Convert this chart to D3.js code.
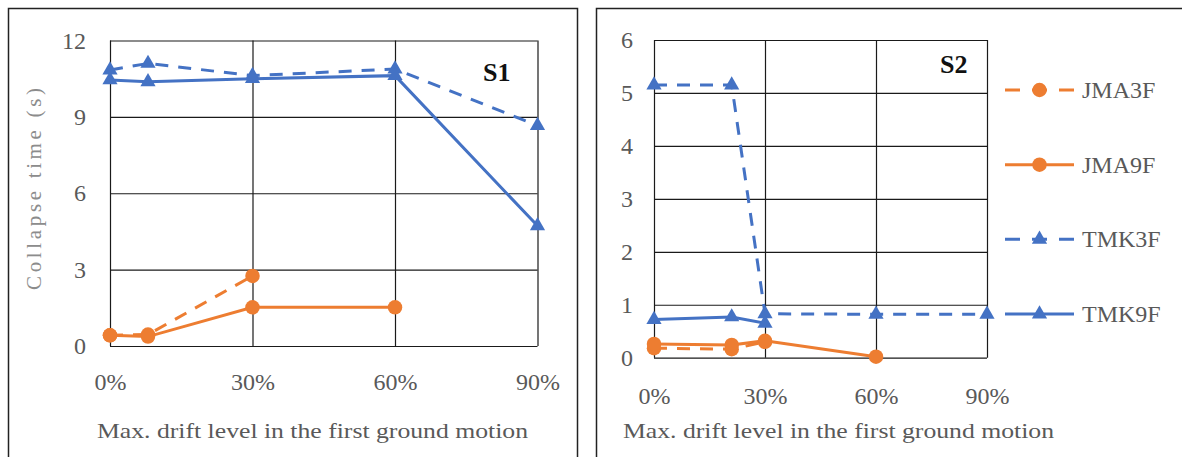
<!DOCTYPE html>
<html>
<head>
<meta charset="utf-8">
<script src="https://cdn.jsdelivr.net/npm/d3@7"></script>
<style>
    body { margin: 0; background: #fff; }
    text { font-family: "Liberation Serif", "DejaVu Serif", serif; }
</style>
</head>
<body>
<div id="chart-area"></div>
<script>
// x values (max. drift level, %) and series values (collapse time, s)
const driftTicks = [0, 30, 60, 90];

const s1Drift = [0, 8, 30, 60, 90];
const s1JMA3F = [0.42, 0.45, 2.75];
const s1JMA9F = [0.42, 0.37, 1.52, 1.52];
const s1TMK3F = [10.84, 11.1, 10.62, 10.88, 8.66];
const s1TMK9F = [10.45, 10.38, 10.5, 10.62, 4.72];
const s1Ticks = [0, 3, 6, 9, 12];

const s2Drift = [0, 21, 30, 60, 90];
const s2JMA3F = [0.18, 0.16, 0.3];
const s2JMA9F = [0.26, 0.24, 0.32, 0.02];
const s2TMK3F = [5.15, 5.15, 0.83, 0.82, 0.82];
const s2TMK9F = [0.72, 0.77, 0.65];
const s2Ticks = [0, 1, 2, 3, 4, 5, 6];

const seriesNames = ["JMA3F", "JMA9F", "TMK3F", "TMK9F"];

const orange = "#ED7D31", blue = "#4472C4";
const styles = {
    JMA3F: {color: orange, dash: "13,10", shape: d3.symbolCircle, size: 165},
    JMA9F: {color: orange, dash: null, shape: d3.symbolCircle, size: 165},
    TMK3F: {color: blue, dash: "13,10", shape: d3.symbolTriangle, size: 100},
    TMK9F: {color: blue, dash: null, shape: d3.symbolTriangle, size: 100}
};

const svg = d3.select("#chart-area").append("svg")
    .attr("width", 1182)
    .attr("height", 457);

// panel frames
svg.append("rect").attr("x", 8.5).attr("y", 8.5).attr("width", 569).attr("height", 470)
    .attr("fill", "none").attr("stroke", "#222").attr("stroke-width", 1.5);
svg.append("rect").attr("x", 596.5).attr("y", 8.5).attr("width", 700).attr("height", 470)
    .attr("fill", "none").attr("stroke", "#222").attr("stroke-width", 1.5);

function drawPanel(p) {
    let g = svg.append("g").attr("transform", `translate(${p.left}, ${p.top})`);

    let x = d3.scaleLinear().domain([0, 90]).range([0, p.width]);
    let y = d3.scaleLinear().domain([0, d3.max(p.yTicks)]).range([p.height, 0]);

    // y gridlines + labels
    g.append("g")
        .call(d3.axisLeft(y).tickValues(p.yTicks).tickSize(-p.width).tickPadding(p.yPad).tickFormat(d3.format("d")))
        .call(a => a.select(".domain").remove())
        .call(a => a.selectAll("line").attr("stroke", "#1a1a1a").attr("stroke-width", 1.2))
        .call(a => a.selectAll("text").attr("fill", "#595959").style("font-size", "24px")
            .style("font-family", "'Liberation Serif', serif"));

    // x gridlines + labels
    g.append("g")
        .attr("transform", `translate(0, ${p.height})`)
        .call(d3.axisBottom(x).tickValues(driftTicks).tickSize(-p.height).tickPadding(p.xPad).tickFormat(d => d + "%"))
        .call(a => a.select(".domain").remove())
        .call(a => a.selectAll("line").attr("stroke", "#1a1a1a").attr("stroke-width", 1.2))
        .call(a => a.selectAll("text").attr("fill", "#595959").style("font-size", "24px")
            .style("font-family", "'Liberation Serif', serif"));

    // series
    seriesNames.forEach(name => {
        let vals = p.series[name];
        let pts = vals.map((v, i) => [p.drift[i], v]);
        let st = styles[name];

        g.append("path")
            .datum(pts)
            .attr("fill", "none")
            .attr("stroke", st.color)
            .attr("stroke-width", 3)
            .attr("stroke-dasharray", st.dash)
            .attr("d", d3.line().x(d => x(d[0])).y(d => y(d[1])));

        g.selectAll(null).data(pts).enter()
            .append("path")
            .attr("transform", d => `translate(${x(d[0])}, ${y(d[1])})`)
            .attr("d", d3.symbol().type(st.shape).size(st.size))
            .attr("fill", st.color);
    });

    // panel label
    g.append("text")
        .attr("x", p.labelX)
        .attr("y", p.labelY)
        .text(p.label)
        .style("font-size", "26px")
        .style("font-weight", "bold")
        .attr("fill", "#111");

    // x axis title
    g.append("text")
        .attr("x", p.titleX)
        .attr("y", 438 - p.top)
        .attr("text-anchor", "middle")
        .attr("textLength", 431)
        .attr("lengthAdjust", "spacingAndGlyphs")
        .text("Max. drift level in the first ground motion")
        .attr("fill", "#595959")
        .style("font-size", "21px");

    return g;
}

drawPanel({
    left: 110, top: 40.5, width: 427.5, height: 305.5,
    drift: s1Drift, yTicks: s1Ticks,
    series: {JMA3F: s1JMA3F, JMA9F: s1JMA9F, TMK3F: s1TMK3F, TMK9F: s1TMK9F},
    yPad: 24, xPad: 27,
    label: "S1", labelX: 373, labelY: 40,
    titleX: 202.5
});

drawPanel({
    left: 654, top: 40, width: 333, height: 317.7,
    drift: s2Drift, yTicks: s2Ticks,
    series: {JMA3F: s2JMA3F, JMA9F: s2JMA9F, TMK3F: s2TMK3F, TMK9F: s2TMK9F},
    yPad: 21, xPad: 29,
    label: "S2", labelX: 286, labelY: 33,
    titleX: 184.5
});

// y axis title (left panel only)
svg.append("text")
    .attr("transform", "translate(41, 189) rotate(-90)")
    .attr("text-anchor", "middle")
    .attr("textLength", 202)
    .attr("lengthAdjust", "spacing")
    .text("Collapse time (s)")
    .attr("fill", "#8c8c8c")
    .style("font-size", "21px");

// legend
let legendY = d3.scalePoint().domain(seriesNames).range([90, 314]);
let legend = svg.selectAll(".legend").data(seriesNames).enter()
    .append("g")
    .attr("class", "legend")
    .attr("transform", d => `translate(1005, ${legendY(d)})`);

legend.append("line")
    .attr("x1", 0).attr("x2", 69)
    .attr("stroke", d => styles[d].color)
    .attr("stroke-width", 3)
    .attr("stroke-dasharray", d => styles[d].dash ? "15,12" : null);

legend.append("path")
    .attr("transform", "translate(34.5, 0)")
    .attr("d", d => d3.symbol().type(styles[d].shape).size(styles[d].size)())
    .attr("fill", d => styles[d].color);

legend.append("text")
    .attr("x", 77)
    .attr("y", 8)
    .text(d => d)
    .attr("fill", "#595959")
    .style("font-size", "24px");
</script>
</body>
</html>
